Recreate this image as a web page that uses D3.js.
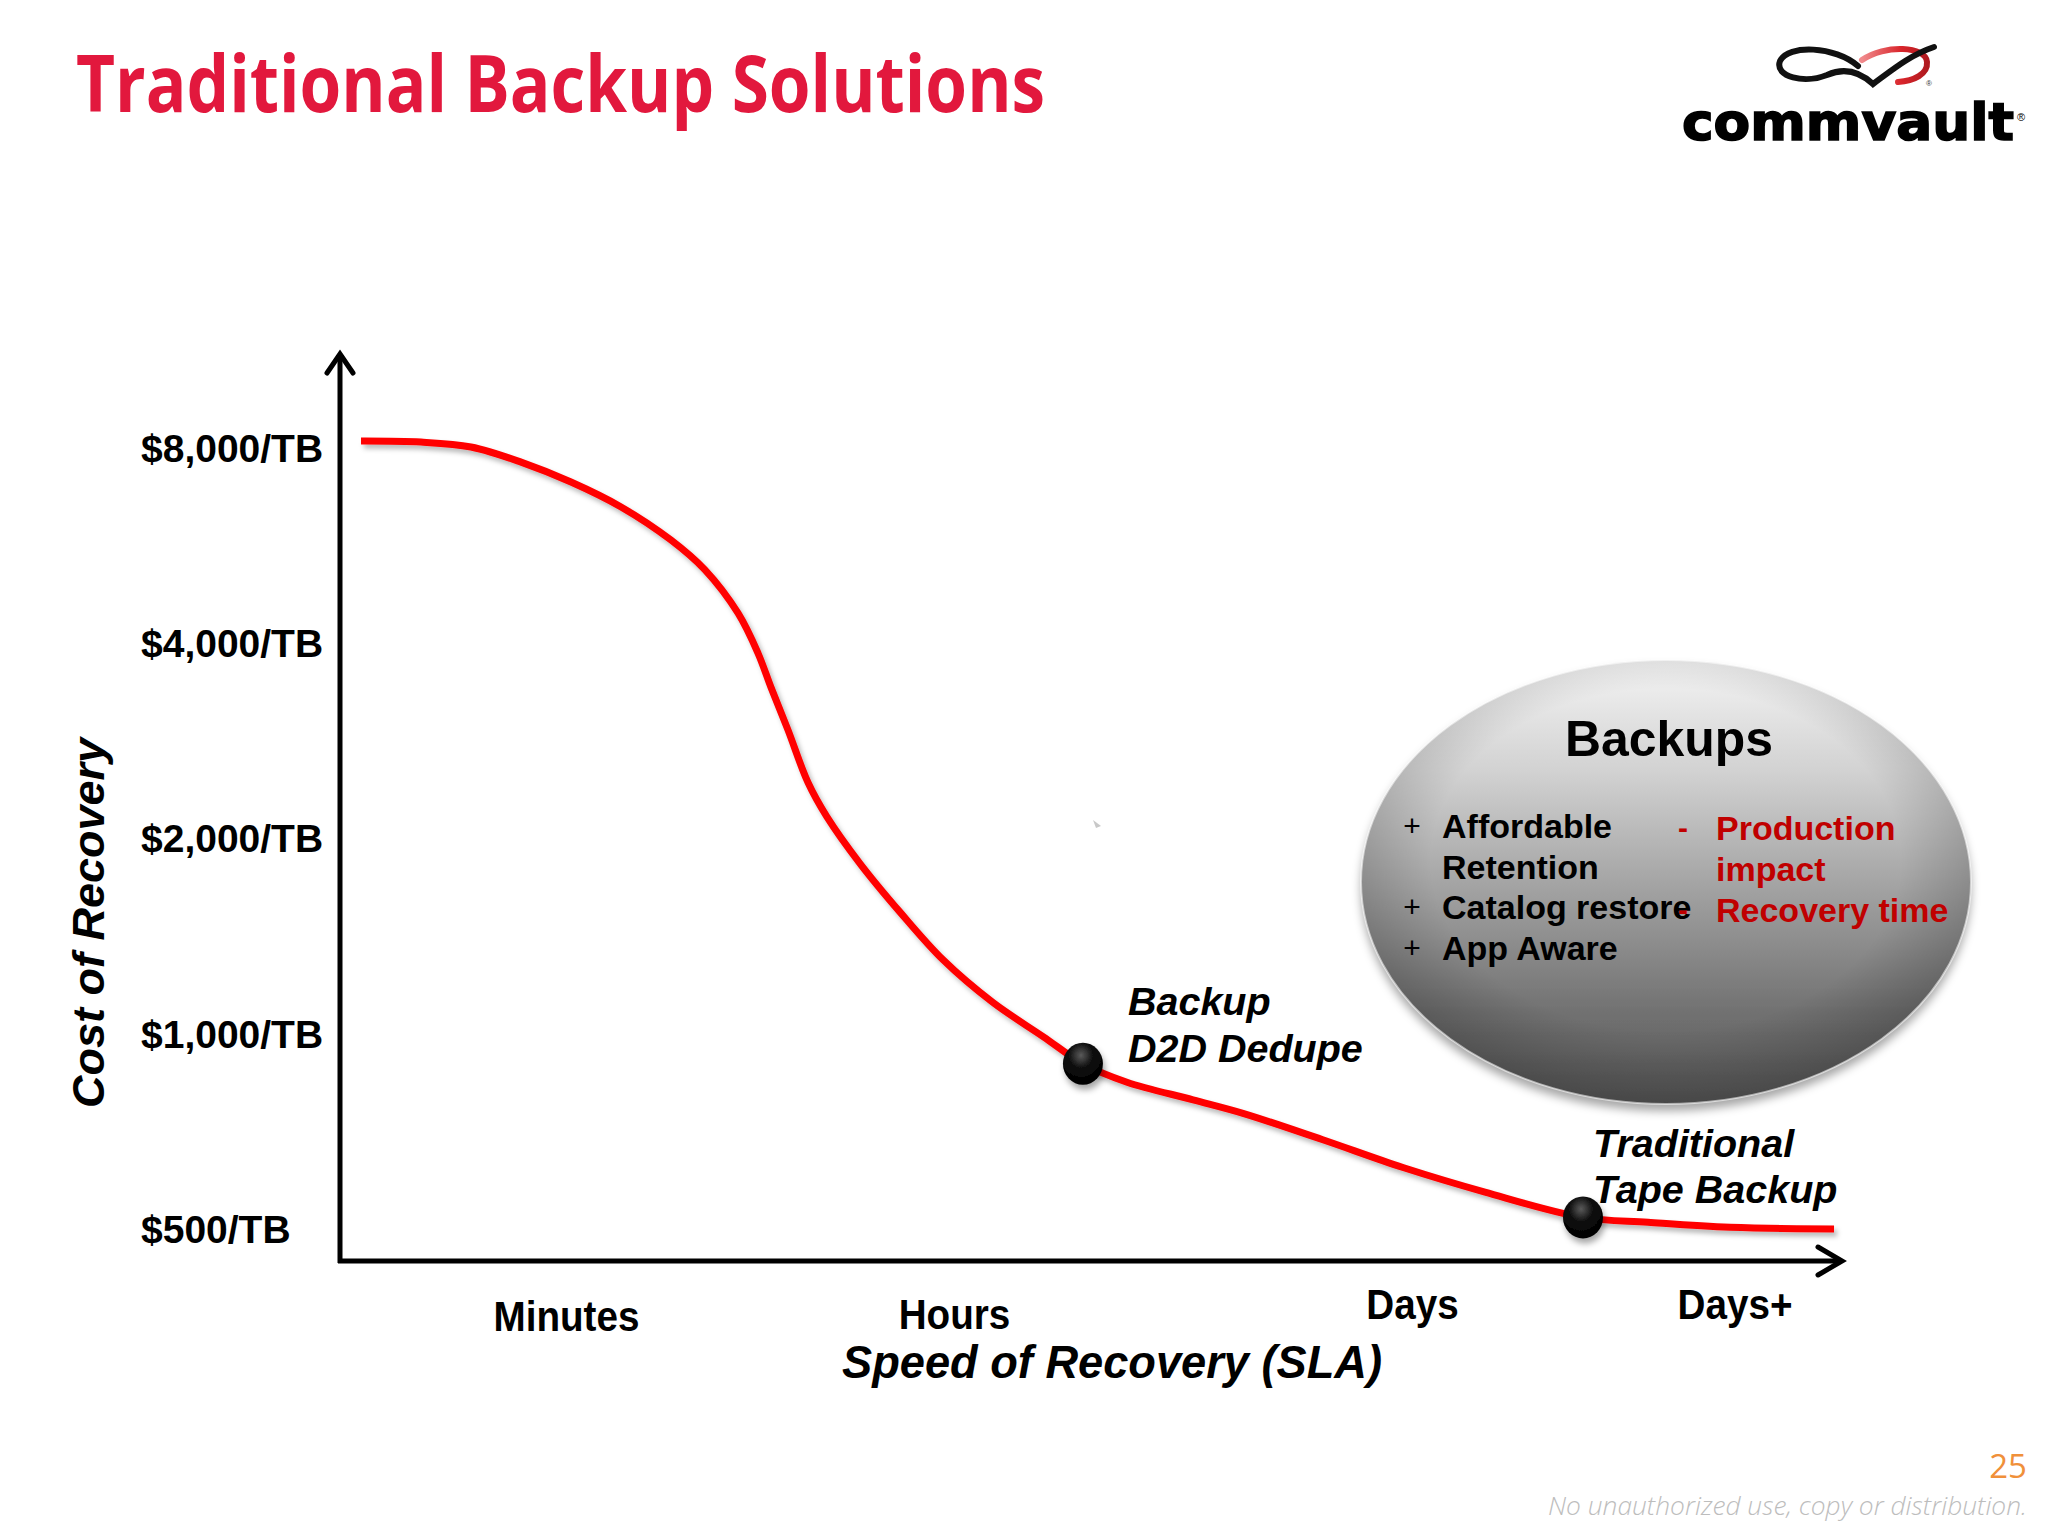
<!DOCTYPE html>
<html><head><meta charset="utf-8">
<script src="https://cdn.jsdelivr.net/npm/d3@7"></script>
<style>html,body{margin:0;padding:0;background:#fff;} svg{display:block}</style>
</head><body>
<svg id="chart" width="2048" height="1536"></svg>
<script>
// ---------------- data ----------------
const speed = [1.53,5.52,8.84,12.17,15.49,18.82,22.14,24.40,26.60,27.93,28.79,29.92,31.25,32.51,34.71,37.37,40.23,43.55,46.88,49.53,52.46,56.85,60.17,65.43,70.81,76.26,82.78,87.10,92.55,99.47];
const cost  = [8200,8170,8030,7610,7090,6490,5770,5190,4450,3860,3420,2940,2440,2160,1830,1540,1300,1117,990,899,842,791,754,687,622,570,521,512,503,500];
const tickValues = [8000,4000,2000,1000,500];
const tickLabels = ["$8,000/TB","$4,000/TB","$2,000/TB","$1,000/TB","$500/TB"];
const categories = ["Minutes","Hours","Days","Days+"];
const categorySpeed = [15.19,40.99,71.44,92.89];
const markerSpeed = [49.53,82.78];
const markerCost = [899,521];
const markerLabels = [["Backup","D2D Dedupe"],["Traditional","Tape Backup"]];
const prosBullets = ["+","","+","+"];
const prosLines = ["Affordable","Retention","Catalog restore","App Aware"];
const consBullets = ["-","","-"];
const consLines = ["Production","impact","Recovery time"];

// ---------------- layout ----------------
const svg = d3.select('#chart');
const defs = svg.append('defs');
const x = d3.scaleLinear().domain([0,100]).range([338,1842]);
const y = d3.scaleLog().domain([500,8000]).range([1229,448]);
const axisX = 340, axisY = 1261;
const catBaseline = [1331,1329,1319,1319];
const labelOffsets = [[45,-49,-2],[10,-60,-14]];

svg.append('rect').attr('width',2048).attr('height',1536).attr('fill','#fff');

// filters
const f1 = defs.append('filter').attr('id','lineShadow').attr('x','-5%').attr('y','-5%').attr('width','110%').attr('height','110%');
f1.append('feDropShadow').attr('dx',3).attr('dy',4).attr('stdDeviation',2.5).attr('flood-color','#000').attr('flood-opacity',0.28);
const f2 = defs.append('filter').attr('id','bubShadow').attr('x','-10%').attr('y','-10%').attr('width','120%').attr('height','130%');
f2.append('feDropShadow').attr('dx',0).attr('dy',7).attr('stdDeviation',5).attr('flood-color','#000').attr('flood-opacity',0.35);
const f3 = defs.append('filter').attr('id','dotShadow').attr('x','-50%').attr('y','-50%').attr('width','200%').attr('height','200%');
f3.append('feDropShadow').attr('dx',2).attr('dy',5).attr('stdDeviation',3).attr('flood-color','#000').attr('flood-opacity',0.35);

const lg = defs.append('linearGradient').attr('id','bubGrad').attr('x1',0).attr('y1',0).attr('x2',0).attr('y2',1);
[[0,'#f4f4f4'],[0.25,'#d2d2d2'],[0.55,'#9c9c9c'],[0.8,'#707070'],[1,'#5a5a5a']].forEach(s=>lg.append('stop').attr('offset',s[0]).attr('stop-color',s[1]));
const rg = defs.append('radialGradient').attr('id','bubEdge').attr('cx','50%').attr('cy','45%').attr('r','55%');
rg.append('stop').attr('offset','70%').attr('stop-color','#000').attr('stop-opacity',0);
rg.append('stop').attr('offset','100%').attr('stop-color','#000').attr('stop-opacity',0.22);
const dg = defs.append('radialGradient').attr('id','dotGrad').attr('cx','45%').attr('cy','30%').attr('r','65%');
dg.append('stop').attr('offset','0%').attr('stop-color','#5a5a5a');
dg.append('stop').attr('offset','45%').attr('stop-color','#111');
dg.append('stop').attr('offset','100%').attr('stop-color','#000');
const redGrad = defs.append('linearGradient').attr('id','redGrad').attr('x1',0).attr('y1',0).attr('x2',1).attr('y2',0);
redGrad.append('stop').attr('offset','0%').attr('stop-color','#f08a8c');
redGrad.append('stop').attr('offset','60%').attr('stop-color','#d9252b');
redGrad.append('stop').attr('offset','100%').attr('stop-color','#b01a20');

// title
svg.append('text').text('Traditional Backup Solutions')
  .attr('x',76).attr('y',112).attr('fill','#E2183D')
  .attr('font-family','"Open Sans", "Noto Sans", sans-serif').attr('font-weight',700).attr('font-size',78)
  .attr('textLength',969).attr('lengthAdjust','spacingAndGlyphs');

// logo
const logo = svg.append('g');
logo.append('path').attr('d','M 1862 60 C 1885 44, 1926 46, 1927 62 C 1928 74, 1914 81, 1898 82')
  .attr('fill','none').attr('stroke','url(#redGrad)').attr('stroke-width',6).attr('stroke-linecap','round');
logo.append('path').attr('d','M 1858 66 C 1835 46, 1788 44, 1780 61 C 1774 77, 1805 84, 1827 75 C 1845 67, 1860 72, 1873 84 C 1892 70, 1910 55, 1934 47')
  .attr('fill','none').attr('stroke','#111').attr('stroke-width',6).attr('stroke-linecap','round');
logo.append('text').text('®').attr('x',1926).attr('y',86).attr('font-size',8).attr('font-family','Liberation Sans, Arial').attr('fill','#333');
logo.append('text').text('commvault').attr('x',1682).attr('y',140)
  .attr('font-family','"DejaVu Sans", sans-serif').attr('font-weight',700).attr('font-size',51).attr('fill','#000')
  .attr('stroke','#000').attr('stroke-width',1.6)
  .attr('textLength',332).attr('lengthAdjust','spacingAndGlyphs');
logo.append('text').text('®').attr('x',2017).attr('y',121).attr('font-size',11).attr('font-family','Liberation Sans, Arial').attr('fill','#000');

// bubble
const bub = svg.append('g');
bub.append('ellipse').attr('cx',1666).attr('cy',882).attr('rx',305).attr('ry',222).attr('fill','url(#bubGrad)').attr('filter','url(#bubShadow)');
bub.append('ellipse').attr('cx',1666).attr('cy',882).attr('rx',305).attr('ry',222).attr('fill','url(#bubEdge)')
  .attr('stroke','rgba(255,255,255,0.55)').attr('stroke-width',2);
bub.append('text').text('Backups').attr('x',1669).attr('y',756).attr('text-anchor','middle')
  .attr('font-family','"Liberation Sans", Arial, sans-serif').attr('font-weight',700).attr('font-size',50).attr('fill','#000')
  .attr('textLength',208).attr('lengthAdjust','spacingAndGlyphs');
const bf = '"Liberation Sans", Arial, sans-serif';
prosLines.forEach((t,i)=>{
  const yy = 838 + i*40.7;
  if (prosBullets[i]) bub.append('text').text(prosBullets[i]).attr('x',1412).attr('y',yy-2).attr('text-anchor','middle')
    .attr('font-family',bf).attr('font-size',30).attr('fill','#000');
  bub.append('text').text(t).attr('x',1442).attr('y',yy).attr('font-family',bf).attr('font-weight',700).attr('font-size',34).attr('fill','#000');
});
consLines.forEach((t,i)=>{
  const yy = 840 + i*41;
  if (consBullets[i]) bub.append('text').text(consBullets[i]).attr('x',1683).attr('y',yy-2).attr('text-anchor','middle')
    .attr('font-family',bf).attr('font-weight',700).attr('font-size',30).attr('fill','#C00000');
  bub.append('text').text(t).attr('x',1716).attr('y',yy).attr('font-family',bf).attr('font-weight',700).attr('font-size',34).attr('fill','#C00000');
});

// axes
svg.append('path').attr('d',`M ${axisX} ${axisY+2} L ${axisX} 355`).attr('stroke','#000').attr('stroke-width',5).attr('fill','none');
svg.append('path').attr('d',`M ${axisX-13} 373 L ${axisX} 354 L ${axisX+13} 373`).attr('stroke','#000').attr('stroke-width',5).attr('fill','none').attr('stroke-linecap','round');
svg.append('path').attr('d',`M ${axisX-2} ${axisY} L ${x(100)-2} ${axisY}`).attr('stroke','#000').attr('stroke-width',5).attr('fill','none');
svg.append('path').attr('d',`M ${x(100)-24} ${axisY-14} L ${x(100)} ${axisY} L ${x(100)-24} ${axisY+14}`).attr('stroke','#000').attr('stroke-width',5).attr('fill','none').attr('stroke-linecap','round');

// y tick labels
svg.selectAll('text.ytick').data(tickValues).enter().append('text').attr('class','ytick')
  .text((d,i)=>tickLabels[i]).attr('x',141).attr('y',d=>y(d)+0.358*39)
  .attr('font-family',bf).attr('font-weight',700).attr('font-size',39).attr('fill','#000');

// category labels
svg.selectAll('text.cat').data(categories).enter().append('text').attr('class','cat')
  .text(d=>d).attr('x',(d,i)=>x(categorySpeed[i])).attr('y',(d,i)=>catBaseline[i]).attr('text-anchor','middle')
  .attr('font-family',bf).attr('font-weight',700).attr('font-size',42).attr('fill','#000')
  .each(function(){ const w=this.getComputedTextLength(); d3.select(this).attr('textLength',w*0.92).attr('lengthAdjust','spacingAndGlyphs'); });

// axis titles
svg.append('text').text('Speed of Recovery (SLA)').attr('x',1112).attr('y',1378).attr('text-anchor','middle')
  .attr('font-family',bf).attr('font-weight',700).attr('font-style','italic').attr('font-size',47).attr('fill','#000')
  .attr('textLength',540).attr('lengthAdjust','spacingAndGlyphs');
svg.append('text').text('Cost of Recovery').attr('transform','translate(104,923) rotate(-90)').attr('text-anchor','middle')
  .attr('font-family',bf).attr('font-weight',700).attr('font-style','italic').attr('font-size',45).attr('fill','#000')
  .attr('textLength',370).attr('lengthAdjust','spacingAndGlyphs');

// curve
const pts = speed.map((s,i)=>[s,cost[i]]);
const line = d3.line().x(d=>x(d[0])).y(d=>y(d[1])).curve(d3.curveCatmullRom.alpha(0.5));
svg.append('path').datum(pts).attr('d',line).attr('fill','none').attr('stroke','#FF0000').attr('stroke-width',7)
  .attr('filter','url(#lineShadow)');

// tiny artifact mark
svg.append('path').attr('d','M 1093 820 L 1101 826 L 1096 828 Z').attr('fill','#c8c8c8');

// markers
markerSpeed.forEach((s,i)=>{
  const cx = x(s), cy = y(markerCost[i]);
  svg.append('ellipse').attr('cx',cx).attr('cy',cy).attr('rx',20).attr('ry',21).attr('fill','url(#dotGrad)').attr('filter','url(#dotShadow)');
  const o = labelOffsets[i];
  markerLabels[i].forEach((t,j)=>{
    svg.append('text').text(t).attr('x',cx+o[0]).attr('y',cy+o[j+1])
      .attr('font-family',bf).attr('font-weight',700).attr('font-style','italic').attr('font-size',39.5).attr('fill','#000');
  });
});

// footer
svg.append('text').text('25').attr('x',2027).attr('y',1478).attr('text-anchor','end')
  .attr('font-family','"Open Sans", sans-serif').attr('font-weight',400).attr('font-size',33).attr('fill','#F0903A');
svg.append('text').text('No unauthorized use, copy or distribution.').attr('x',2027).attr('y',1515).attr('text-anchor','end')
  .attr('font-family','"Open Sans", sans-serif').attr('font-weight',300).attr('font-style','italic').attr('font-size',26).attr('fill','#bdbdbd')
  .attr('textLength',479).attr('lengthAdjust','spacingAndGlyphs');
</script>
</body></html>
